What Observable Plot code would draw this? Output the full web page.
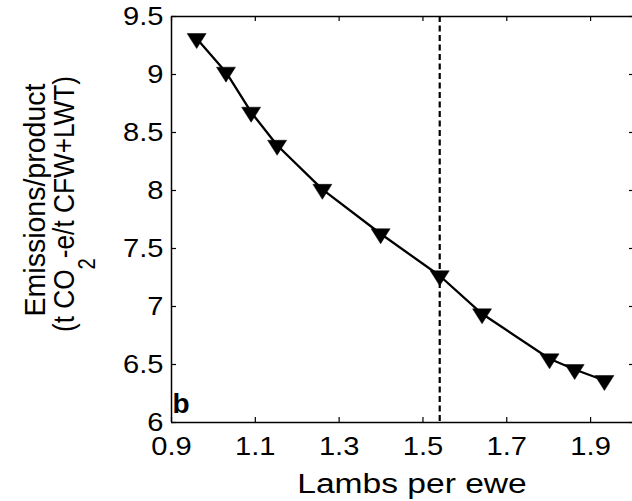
<!DOCTYPE html>
<html><head><meta charset="utf-8">
<script src="https://cdn.jsdelivr.net/npm/d3@7"></script>
<script src="https://cdn.jsdelivr.net/npm/@observablehq/plot@0.6"></script>
<style>body{margin:0;background:#fff} svg{display:block}</style>
</head><body><div id="chart"></div>
<script>
const lambsPerEwe = [0.960, 1.030, 1.090, 1.152, 1.260, 1.399, 1.540, 1.641, 1.802, 1.862, 1.933];
const emissions   = [9.31, 9.02, 8.675, 8.39, 8.01, 7.627, 7.265, 6.937, 6.549, 6.457, 6.362];
const referenceLambs = [1.54];
const xTicks = [0.9, 1.1, 1.3, 1.5, 1.7, 1.9];
const yTicks = [6, 6.5, 7, 7.5, 8, 8.5, 9, 9.5];
const xLabel = "Lambs per ewe";
const yLabelLine1 = "Emissions/product";
const yLabelLine2 = ["(t CO", "2", "-e/t CFW+LWT)"];
const panelLabel = "b";

const data = lambsPerEwe.map((x, i) => ({x, y: emissions[i]}));

const triangleDown = {
  draw(ctx) {
    ctx.moveTo(-9.5, -5); ctx.lineTo(9.5, -5); ctx.lineTo(0, 10); ctx.closePath();
  }
};

const plot = Plot.plot({
  width: 632, height: 501,
  marginLeft: 171, marginTop: 16, marginRight: 0, marginBottom: 79,
  style: {fontFamily: "'Liberation Sans', Arial, sans-serif", fontSize: "26px", color: "black", background: "white"},
  x: {domain: [0.9, 2.0]},
  y: {domain: [6, 9.5]},
  marks: [
    Plot.ruleX(referenceLambs, {stroke: "black", strokeDasharray: "6,3.5", strokeWidth: 2.2}),
    Plot.line(data, {x: "x", y: "y", stroke: "black", strokeWidth: 2.3}),
    Plot.dot(data, {x: "x", y: "y", symbol: triangleDown, fill: "black", stroke: "black", strokeWidth: 0.5}),
    Plot.ruleX([0.9], {stroke: "black", strokeWidth: 1.5}),
    Plot.ruleY([6, 9.5], {stroke: "black", strokeWidth: 1.5}),
    Plot.axisX(xTicks, {anchor: "bottom", tickSize: 5, dy: -5, fill: "none", strokeWidth: 1.2}),
    Plot.axisX(xTicks, {anchor: "top", tickSize: 4, dy: 4, fill: "none", strokeWidth: 1.2}),
    Plot.axisY(yTicks, {anchor: "left", tickSize: 5, dx: 5, fill: "none", strokeWidth: 1.2}),
    Plot.axisY(yTicks, {anchor: "right", tickSize: 4, dx: -4, fill: "none", strokeWidth: 1.2}),
    Plot.axisX(xTicks, {anchor: "bottom", tickSize: 0, tickPadding: 14, tickFormat: d => String(d), label: null}),
    Plot.axisY(yTicks, {anchor: "left", tickSize: 0, tickPadding: 8, tickFormat: d => String(d), label: null})
  ]
});

document.getElementById("chart").appendChild(plot);
const svg = d3.select(plot);

svg.selectAll('g[aria-label="x-axis tick label"] text, g[aria-label="y-axis tick label"] text')
  .attr("transform", function () { return (this.getAttribute("transform") || "") + " scale(1.12,1)"; });

const font = "'Liberation Sans', Arial, sans-serif";
svg.append("text")
  .attr("transform", "translate(412,493) scale(1.2,1)")
  .attr("text-anchor", "middle").attr("font-family", font).attr("font-size", 28).attr("fill", "black")
  .text(xLabel);

svg.append("text")
  .attr("transform", "translate(45,200) rotate(-90) scale(1,1.05)")
  .attr("text-anchor", "middle").attr("font-family", font).attr("font-size", 28.5).attr("fill", "black")
  .text(yLabelLine1);

const l2 = svg.append("text")
  .attr("transform", "translate(74,204) rotate(-90) scale(0.92,1.05)")
  .attr("text-anchor", "middle").attr("font-family", font).attr("font-size", 28.5).attr("fill", "black");
l2.append("tspan").text(yLabelLine2[0]);
l2.append("tspan").attr("dy", 20).attr("font-size", 22).text(yLabelLine2[1]);
l2.append("tspan").attr("dy", -20).text(yLabelLine2[2]);

svg.append("text")
  .attr("x", 181).attr("y", 413)
  .attr("font-family", font).attr("font-size", 28).attr("font-weight", "bold").attr("fill", "black")
  .text(panelLabel);
</script>
</body></html>
